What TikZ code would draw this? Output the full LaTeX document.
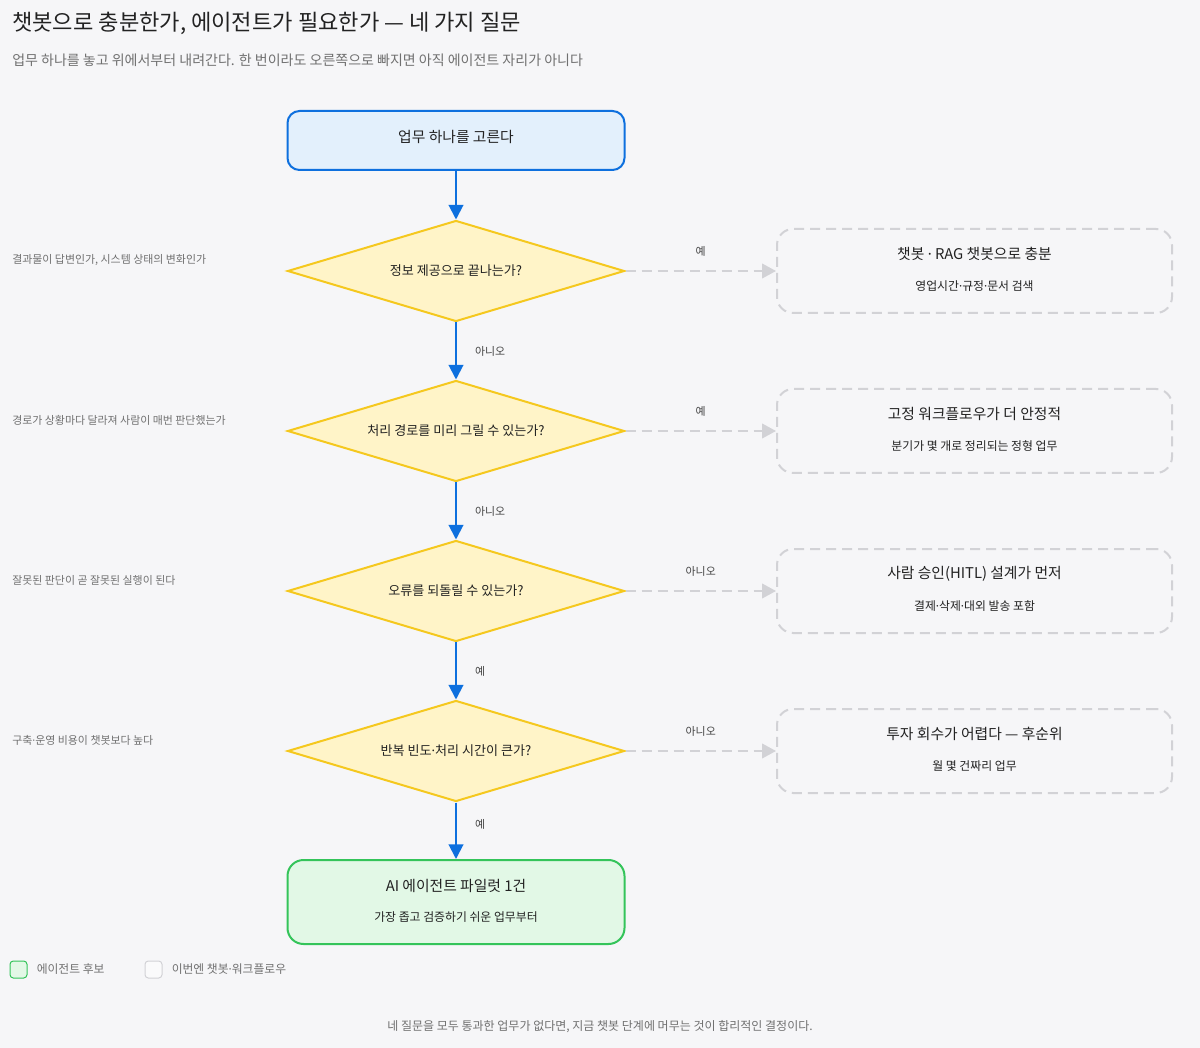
\documentclass[tikz,border=0pt]{standalone}
\usepackage{fontspec}
\setmainfont{Noto Sans CJK KR}
\newfontfamily\dotfont{Noto Sans}
\newcommand\mdot{{\dotfont ·}}
\usetikzlibrary{positioning,arrows.meta,shapes.geometric}
\definecolor{PageBg}{RGB}{246,246,248}
\definecolor{InkDark}{RGB}{34,34,34}
\definecolor{InkGray}{RGB}{112,112,112}
\definecolor{FlowBlue}{RGB}{14,112,222}
\definecolor{StartFill}{RGB}{227,240,252}
\definecolor{AskGold}{RGB}{245,200,30}
\definecolor{AskFill}{RGB}{255,244,200}
\definecolor{PassGreen}{RGB}{52,196,90}
\definecolor{PassFill}{RGB}{226,248,230}
\definecolor{SkipGray}{RGB}{210,210,214}

\begin{document}
\begin{tikzpicture}[
    x=0.75pt, y=-0.75pt,
    font=\fontsize{9.8}{11}\selectfont,
    text=InkDark,
    startbox/.style={
        draw=FlowBlue,
        line width=1.5pt,
        rounded corners=9pt,
        fill=StartFill,
        minimum width=252.75pt,
        minimum height=44.25pt
    },
    ask/.style={
        diamond,
        draw=AskGold,
        line width=1.5pt,
        fill=AskFill,
        aspect=3.3,
        inner sep=0pt,
        minimum width=252.75pt,
        minimum height=75.75pt
    },
    passbox/.style={
        draw=PassGreen,
        line width=1.5pt,
        rounded corners=12pt,
        fill=PassFill,
        minimum width=252.75pt,
        minimum height=63pt
    },
    altbox/.style={
        draw=SkipGray,
        line width=1.5pt,
        dash pattern=on 7.5pt off 4.5pt,
        rounded corners=12pt,
        minimum width=296.25pt,
        minimum height=63pt
    },
    boxtitle/.style={inner sep=0pt, font=\fontsize{11.1}{13}\selectfont},
    boxsub/.style={inner sep=0pt, font=\fontsize{8.9}{10}\selectfont},
    sidenote/.style={anchor=west, inner sep=0pt, text=InkGray, font=\fontsize{8.2}{10}\selectfont},
    edgelabel/.style={inner sep=0pt, text=InkDark!85, font=\fontsize{8.2}{10}\selectfont},
    legendkey/.style={line width=0.75pt, rounded corners=2.5pt, minimum size=12.75pt, inner sep=0pt},
    flowline/.style={-{Triangle[length=11pt,width=11pt]}, line width=1.5pt, draw=FlowBlue},
    skipline/.style={-{Triangle[length=10.5pt,width=11pt,fill=SkipGray]}, line width=1.5pt, draw=SkipGray, dash pattern=on 7.5pt off 4.5pt}
]

\useasboundingbox (0,0) rectangle (1200,1048);
\fill[PageBg] (0,0) rectangle (1200,1048);

% heading
\node[anchor=west, inner sep=0pt, font=\fontsize{16.6}{19}\selectfont] (title) at (12,23)
{챗봇으로 충분한가, 에이전트가 필요한가 — 네 가지 질문};
\node[anchor=west, inner sep=0pt, text=InkGray, font=\fontsize{10.5}{12}\selectfont] (subtitle) at (12,60)
{업무 하나를 놓고 위에서부터 내려간다. 한 번이라도 오른쪽으로 빠지면 아직 에이전트 자리가 아니다};

% main column
\node[startbox] (start) at (456,140.5) {};
\node[boxtitle] (starttitle) at ([yshift=2.5pt]start.center) {업무 하나를 고른다};
\node[ask] (d1) at (456,271) {정보 제공으로 끝나는가?};
\node[ask] (d2) at (456,431) {처리 경로를 미리 그릴 수 있는가?};
\node[ask] (d3) at (456,591) {오류를 되돌릴 수 있는가?};
\node[ask] (d4) at (456,751) {반복 빈도\mdot 처리 시간이 큰가?};
\node[passbox] (pilot) at (456,902) {};
\node[boxtitle] (pilottitle) at ([yshift=12pt]pilot.center) {AI 에이전트 파일럿 1건};
\node[boxsub] (pilotsub) at ([yshift=-11.25pt]pilot.center) {가장 좁고 검증하기 쉬운 업무부터};

% exits on the right
\node[altbox] (alt1) at (974.5,271) {};
\node[boxtitle] (alt1title) at ([yshift=12.75pt]alt1.center) {챗봇 \mdot{} RAG 챗봇으로 충분};
\node[boxsub] (alt1sub) at ([yshift=-11.25pt]alt1.center) {영업시간\mdot 규정\mdot 문서 검색};

\node[altbox] (alt2) at (974.5,431) {};
\node[boxtitle] (alt2title) at ([yshift=12.75pt]alt2.center) {고정 워크플로우가 더 안정적};
\node[boxsub] (alt2sub) at ([yshift=-11.25pt]alt2.center) {분기가 몇 개로 정리되는 정형 업무};

\node[altbox] (alt3) at (974.5,591) {};
\node[boxtitle] (alt3title) at ([yshift=12.75pt]alt3.center) {사람 승인(HITL) 설계가 먼저};
\node[boxsub] (alt3sub) at ([yshift=-11.25pt]alt3.center) {결제\mdot 삭제\mdot 대외 발송 포함};

\node[altbox] (alt4) at (974.5,751) {};
\node[boxtitle] (alt4title) at ([yshift=12.75pt]alt4.center) {투자 회수가 어렵다 — 후순위};
\node[boxsub] (alt4sub) at ([yshift=-11.25pt]alt4.center) {월 몇 건짜리 업무};

% notes on the left
\node[sidenote] (note1) at (12,260) {결과물이 답변인가, 시스템 상태의 변화인가};
\node[sidenote] (note2) at (12,420) {경로가 상황마다 달라져 사람이 매번 판단했는가};
\node[sidenote] (note3) at (12,580) {잘못된 판단이 곧 잘못된 실행이 된다};
\node[sidenote] (note4) at (12,740) {구축\mdot 운영 비용이 챗봇보다 높다};

% connectors
\draw[flowline] (start) -- (d1);
\draw[flowline] (d1) -- node[edgelabel, right=13.5pt] (l12) {아니오} (d2);
\draw[flowline] (d2) -- node[edgelabel, right=13.5pt] (l23) {아니오} (d3);
\draw[flowline] (d3) -- node[edgelabel, right=13.5pt] (l34) {예} (d4);
\draw[flowline] (d4) -- node[edgelabel, right=13.5pt, pos=0.38] (l4p) {예} (pilot);

\draw[skipline] (d1) -- node[edgelabel, above=10pt] (s1) {예} (alt1);
\draw[skipline] (d2) -- node[edgelabel, above=10pt] (s2) {예} (alt2);
\draw[skipline] (d3) -- node[edgelabel, above=10pt] (s3) {아니오} (alt3);
\draw[skipline] (d4) -- node[edgelabel, above=10pt] (s4) {아니오} (alt4);

% legend
\node[legendkey, draw=PassGreen, fill=PassFill] (keyagent) at (18.5,969.5) {};
\node[sidenote, right=6.75pt of keyagent, font=\fontsize{8.85}{10}\selectfont] (keyagenttext) {에이전트 후보};
\node[legendkey, draw=SkipGray, fill=white!50!PageBg] (keyother) at (153.5,969.5) {};
\node[sidenote, right=6.75pt of keyother, font=\fontsize{8.85}{10}\selectfont] (keyothertext) {이번엔 챗봇\mdot 워크플로우};

\node[inner sep=0pt, text=InkGray, font=\fontsize{9}{10}\selectfont] (footer) at (600,1027)
{네 질문을 모두 통과한 업무가 없다면, 지금 챗봇 단계에 머무는 것이 합리적인 결정이다.};

\end{tikzpicture}
\end{document}
